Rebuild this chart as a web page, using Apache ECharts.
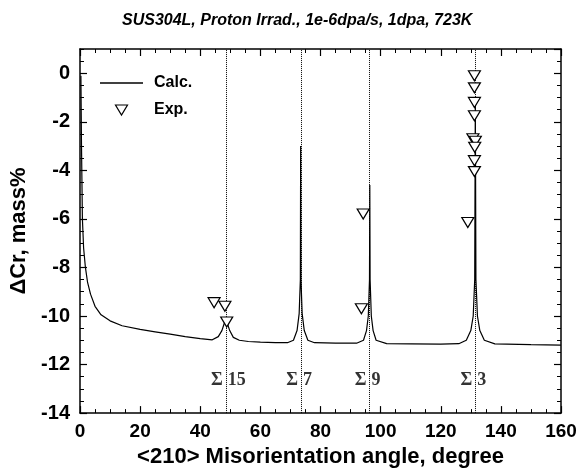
<!DOCTYPE html>
<html>
<head>
<meta charset="utf-8">
<script src="https://cdn.jsdelivr.net/npm/echarts@6/dist/echarts.min.js"></script>
<style>
html, body { margin: 0; padding: 0; background: #fff; }
#chart { width: 587px; height: 473px; }
</style>
</head>
<body>
<div id="chart"></div>
<script>
// calculated ΔCr profile vs <210> misorientation angle
const calcAngle = [0.3, 0.5, 0.8, 1.2, 1.8, 2.5, 3.5, 5, 7, 10, 14, 20, 25, 30, 35, 40, 44,
  46, 47.2, 48.0, 48.5, 49.0, 49.8, 51, 53, 56, 60, 65, 69,
  71, 72.2, 72.9, 73.3, 73.4, 73.5, 73.9, 74.6, 75.8, 78, 85, 92,
  94.3, 95.3, 95.9, 96.3, 96.4, 96.5, 96.9, 97.5, 98.5, 102, 110, 120, 126,
  128.5, 130, 130.8, 131.3, 131.5, 131.7, 132.2, 133, 134.5, 138, 150, 160];
const calcCr = [-0.1, -3, -6, -7.2, -8.0, -8.6, -9.1, -9.6, -9.95, -10.2, -10.4, -10.55, -10.65, -10.75, -10.85, -10.93, -10.98,
  -10.85, -10.6, -10.3, -10.2, -10.3, -10.6, -10.88, -11.0, -11.05, -11.08, -11.1, -11.1,
  -11.0, -10.6, -9.9, -8.5, -3.0, -8.5, -9.9, -10.6, -11.0, -11.1, -11.12, -11.12,
  -11.0, -10.6, -10.0, -8.5, -4.6, -8.5, -10.0, -10.6, -11.0, -11.14, -11.15, -11.16, -11.14,
  -11.0, -10.6, -10.0, -8.5, -1.0, -8.5, -10.0, -10.6, -11.0, -11.15, -11.18, -11.2];

// experimental points
const expAngle = [44.6, 48.2, 48.8, 94.2, 93.6, 129.0,
  131.2, 131.2, 131.2, 131.2, 130.7, 131.5, 131.3, 131.2, 131.2];
const expCr = [-9.45, -9.6, -10.25, -5.8, -9.7, -6.15,
  -0.1, -0.6, -1.2, -1.75, -2.7, -2.8, -3.05, -3.6, -4.05];

// CSL boundary markers
const sigmaNames = ['15', '7', '9', '3'];
const sigmaAngle = [48.5, 73.5, 96.3, 131.5];
const sigmaLabelCr = -12.65;

const sansFont = '"Liberation Sans", Arial, sans-serif';
const serifFont = '"Liberation Serif", "Times New Roman", serif';

const calcData = calcAngle.map((a, i) => [a, calcCr[i]]);
const expData = expAngle.map((a, i) => [a, expCr[i]]);
const sigmaData = [];
sigmaAngle.forEach((a, i) => {
  sigmaData.push({ value: [a, sigmaLabelCr], label: { position: 'left', distance: 3, formatter: 'Σ' } });
  sigmaData.push({ value: [a, sigmaLabelCr], label: { position: 'right', distance: 2, formatter: sigmaNames[i] } });
});

const triPath = 'path://M0,0L12,0L6,10Z';
const linePath = 'path://M0,0L43,0L43,1.3L0,1.3Z';
const black = '#000';

function xAxisOf(pos, withLabels) {
  return {
    type: 'value', position: pos, min: 0, max: 160, interval: 20,
    axisLine: { show: true, onZero: false, lineStyle: { color: black, width: 1.5 } },
    axisTick: { show: true, inside: true, length: 7, lineStyle: { color: black, width: 1.2 } },
    minorTick: { show: true, splitNumber: 4, length: 4, lineStyle: { color: black, width: 1 } },
    splitLine: { show: false },
    axisLabel: { show: withLabels, color: black, fontFamily: sansFont, fontWeight: 'bold', fontSize: 19, margin: 9 },
    name: withLabels ? '<210> Misorientation angle, degree' : '',
    nameLocation: 'middle', nameGap: 32,
    nameTextStyle: { color: black, fontFamily: sansFont, fontWeight: 'bold', fontSize: 22 }
  };
}

function yAxisOf(pos, step, tickLen, withLabels) {
  return {
    type: 'value', position: pos, min: -14, max: 1, interval: step,
    axisLine: { show: tickLen > 5, onZero: false, lineStyle: { color: black, width: 1.5 } },
    axisTick: { show: true, inside: true, length: tickLen, lineStyle: { color: black, width: tickLen > 5 ? 1.2 : 1 } },
    splitLine: { show: false },
    axisLabel: {
      show: withLabels, color: black, fontFamily: sansFont, fontWeight: 'bold', fontSize: 20, margin: 10,
      showMaxLabel: false
    },
    name: withLabels ? 'ΔCr, mass%' : '',
    nameLocation: 'middle', nameGap: 50,
    nameTextStyle: { color: black, fontFamily: sansFont, fontWeight: 'bold', fontSize: 22 }
  };
}

const chart = echarts.init(document.getElementById('chart'));
chart.setOption({
  animation: false,
  backgroundColor: '#fff',
  title: {
    text: 'SUS304L, Proton Irrad., 1e-6dpa/s, 1dpa, 723K',
    left: 117, top: 8,
    textStyle: { color: black, fontFamily: sansFont, fontWeight: 'bold', fontStyle: 'italic', fontSize: 16 }
  },
  legend: {
    orient: 'vertical', left: 95, top: 70, itemWidth: 43, itemHeight: 10, itemGap: 11,
    textStyle: { color: black, fontFamily: sansFont, fontWeight: 'bold', fontSize: 16, padding: [0, 0, 0, 6] },
    data: [
      { name: 'Calc.', icon: linePath, itemStyle: { color: black } },
      { name: 'Exp.', icon: triPath, itemStyle: { color: '#fff', borderColor: black, borderWidth: 1.2 } }
    ]
  },
  grid: { left: 71, right: 26, top: 49, bottom: 58 },
  xAxis: [xAxisOf('bottom', true), xAxisOf('top', false)],
  yAxis: [
    yAxisOf('left', 2, 7, true),
    yAxisOf('left', 0.5, 4, false),
    yAxisOf('right', 2, 7, false),
    yAxisOf('right', 0.5, 4, false)
  ],
  series: [
    {
      name: 'Calc.', type: 'line', data: calcData, symbol: 'none',
      lineStyle: { color: black, width: 1.2 }, itemStyle: { color: black },
      markLine: {
        silent: true, symbol: ['none', 'none'], label: { show: false },
        lineStyle: { type: 'dotted', color: black, width: 1 },
        data: sigmaAngle.map(a => ({ xAxis: a }))
      }
    },
    {
      name: 'Exp.', type: 'scatter', data: expData, symbol: triPath, symbolSize: [12, 10],
      itemStyle: { color: '#fff', borderColor: black, borderWidth: 1.2, opacity: 1 }, z: 5
    },
    {
      name: 'sigma', type: 'scatter', data: sigmaData, symbolSize: 0, silent: true,
      label: { show: true, color: black, fontFamily: serifFont, fontWeight: 'bold', fontSize: 18 }
    }
  ]
});
</script>
</body>
</html>
